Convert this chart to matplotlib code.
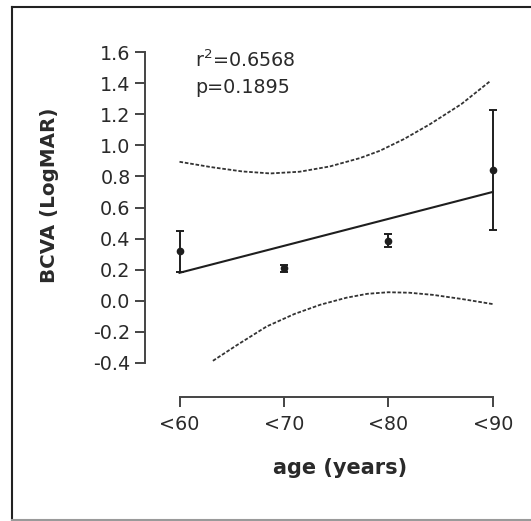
import matplotlib
matplotlib.use("Agg")
import matplotlib.pyplot as plt
from matplotlib.lines import Line2D

# ---- data ----
categories = ["<60", "<70", "<80", "<90"]
x_pos = [1, 2, 3, 4]
means = [0.318, 0.208, 0.386, 0.840]
errors = [0.13, 0.025, 0.043, 0.385]

fit_x = [1, 4]
fit_y = [0.18, 0.70]

upper_x = [1.0, 1.30, 1.60, 1.87, 2.15, 2.44, 2.73, 2.92, 3.15, 3.40, 3.70, 3.98]
upper_y = [0.894, 0.860, 0.832, 0.819, 0.830, 0.864, 0.918, 0.965, 1.040, 1.136, 1.265, 1.415]

lower_x = [1.32, 1.55, 1.835, 2.10, 2.35, 2.60, 2.80, 3.0, 3.20, 3.43, 3.70, 4.0]
lower_y = [-0.386, -0.285, -0.165, -0.085, -0.025, 0.020, 0.045, 0.055, 0.052, 0.038, 0.012, -0.021]

y_ticks = [-0.4, -0.2, 0.0, 0.2, 0.4, 0.6, 0.8, 1.0, 1.2, 1.4, 1.6]
y_ticklabels = ["-0.4", "-0.2", "0.0", "0.2", "0.4", "0.6", "0.8", "1.0", "1.2", "1.4", "1.6"]

W, H = 531, 521
fig = plt.figure(figsize=(W / 100, H / 100), dpi=100)
plt.rcParams['font.family'] = ['DejaVu Sans']

# axes in pixel geometry
x0, x1 = 179.5, 492.7
yt, yb = 52.0, 363.0
ax = fig.add_axes([x0 / W, (H - yb) / H, (x1 - x0) / W, (yb - yt) / H])
ax.set_xlim(1, 4)
ax.set_ylim(-0.4, 1.6)

axis_col = "#444444"
ink = "#1e1e1e"

ax.plot(upper_x, upper_y, color="#333333", lw=1.3, linestyle=(0, (2.0, 1.0)), clip_on=False)
ax.plot(lower_x, lower_y, color="#333333", lw=1.3, linestyle=(0, (2.0, 1.0)), clip_on=False)
ax.plot(fit_x, fit_y, color=ink, lw=1.5, clip_on=False)
ax.errorbar(x_pos, means, yerr=errors, fmt="o", color=ink, ms=4.5, capsize=3,
            elinewidth=1.4, capthick=1.4, clip_on=False)

for s in ["top", "right"]:
    ax.spines[s].set_visible(False)
ax.spines["left"].set_position(("outward", 25.2))
ax.spines["bottom"].set_position(("outward", 24.5))
for s in ["left", "bottom"]:
    ax.spines[s].set_color(axis_col)
    ax.spines[s].set_linewidth(1.4)

ax.set_yticks(y_ticks)
ax.set_yticklabels(y_ticklabels)
ax.set_xticks(x_pos)
ax.set_xticklabels(categories)
ax.tick_params(axis="both", colors=axis_col, width=1.4, length=7, labelsize=13.8,
               labelcolor="#2a2a2a")
ax.tick_params(axis="y", pad=3)
ax.tick_params(axis="x", pad=6)

ax.set_xlabel("age (years)", fontsize=15, fontweight="bold", color="#2a2a2a")
ax.set_ylabel("BCVA (LogMAR)", fontsize=14.3, fontweight="bold", color="#2a2a2a")
ax.xaxis.set_label_coords(0.512, -0.305)
ax.yaxis.set_label_coords(-0.385, 0.54)

ax.text(0.049, 0.953, r"r$^{2}$=0.6568", transform=ax.transAxes, fontsize=13.8,
        color="#2a2a2a", va="baseline", ha="left")
ax.text(0.049, 0.868, "p=0.1895", transform=ax.transAxes, fontsize=13.8,
        color="#2a2a2a", va="baseline", ha="left")

# figure border
def px(xp, yp):
    return xp / W, 1 - yp / H

bx, by_top, by_bot = 11.7, 6.5, 519.5
fig.add_artist(Line2D([px(bx, by_top)[0], px(bx, by_bot)[0]],
                      [px(bx, by_top)[1], px(bx, by_bot)[1]],
                      color="#222222", lw=1.5, transform=fig.transFigure))
fig.add_artist(Line2D([px(bx, by_top)[0], 1.0], [px(bx, by_top)[1]] * 2,
                      color="#222222", lw=1.5, transform=fig.transFigure))
fig.add_artist(Line2D([px(bx, by_bot)[0], 1.0], [px(bx, by_bot)[1]] * 2,
                      color="#9a9a9a", lw=1.5, transform=fig.transFigure))

fig.savefig("out.png", dpi=100)
